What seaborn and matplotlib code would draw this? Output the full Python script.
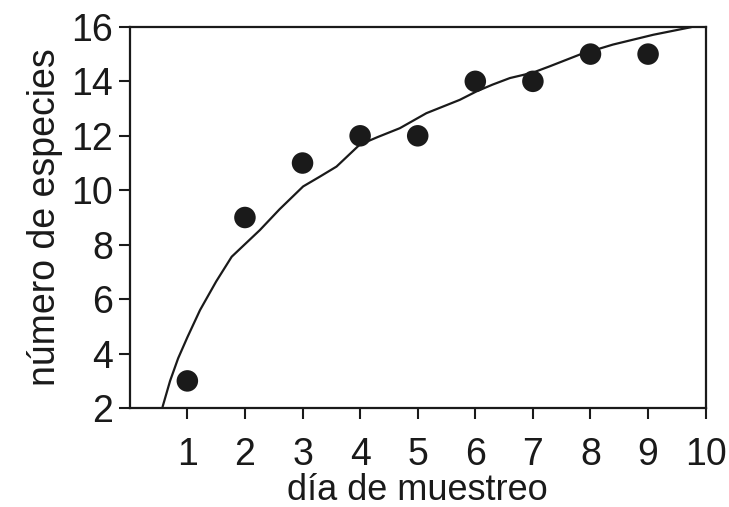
import numpy as np
import matplotlib
matplotlib.use("Agg")
import matplotlib.pyplot as plt
import seaborn as sns

# observed species per sampling day
dias = [1, 2, 3, 4, 5, 6, 7, 8, 9]
especies = [3, 9, 11, 12, 12, 14, 14, 15, 15]

# trend curve
curva_x = [0.57, 0.70, 0.84, 1.00, 1.22, 1.50, 1.77, 2.26, 2.60, 3.01, 3.30, 3.59,
           3.99, 4.30, 4.69, 5.15, 5.73, 6.02, 6.30, 6.60, 7.00, 7.29, 7.81, 8.39,
           9.09, 9.75]
curva_y = [2.05, 3.00, 3.83, 4.60, 5.60, 6.65, 7.56, 8.54, 9.30, 10.14, 10.50, 10.87,
           11.67, 11.95, 12.28, 12.83, 13.32, 13.63, 13.88, 14.12, 14.32, 14.55, 14.98,
           15.35, 15.71, 15.99]

xticks = [1, 2, 3, 4, 5, 6, 7, 8, 9, 10]
yticks = [2, 4, 6, 8, 10, 12, 14, 16]

sns.set_style("ticks")
plt.rcParams['font.family'] = ['Liberation Sans', 'DejaVu Sans']

fig = plt.figure(figsize=(7.29, 5.07), dpi=100)
ax = fig.add_axes([0.178, 0.195, 0.790, 0.752])

sns.lineplot(x=curva_x, y=curva_y, sort=False, color="#1a1a1a", linewidth=1.6, ax=ax)
sns.scatterplot(x=dias, y=especies, s=240, color="#1a1a1a", edgecolor="none", ax=ax, zorder=3)

ax.set_xlim(0, 10)
ax.set_ylim(2, 16)
ax.set_xticks(xticks)
ax.set_yticks(yticks)
ax.tick_params(axis="both", direction="out", length=8, width=1.5, color="#1a1a1a",
               labelsize=27, labelcolor="#1a1a1a")
ax.tick_params(axis="x", pad=13)
ax.tick_params(axis="y", pad=4)
for sp in ax.spines.values():
    sp.set_linewidth(1.6)
    sp.set_color("#1a1a1a")

ax.set_xlabel("día de muestreo", fontsize=26, color="#1a1a1a", labelpad=0)
ax.set_ylabel("número de especies", fontsize=27, color="#1a1a1a", labelpad=6)

fig.savefig("out.png", dpi=100)
